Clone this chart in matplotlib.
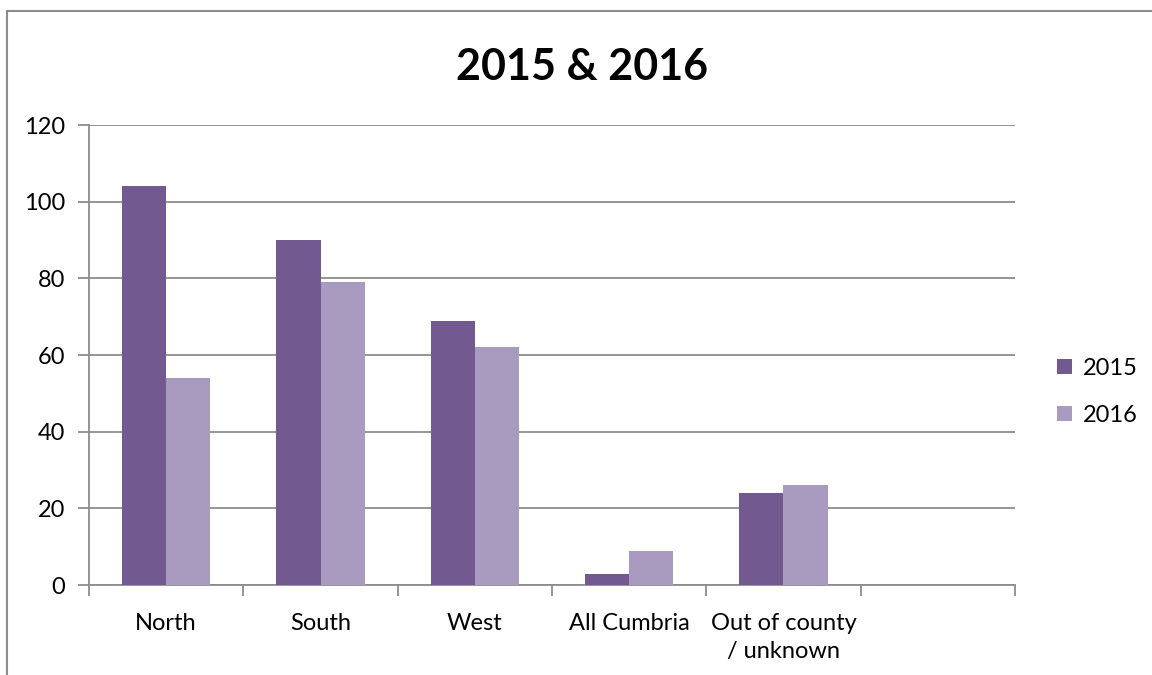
"""Grouped bar chart of counts by area for 2015 and 2016."""

import matplotlib.pyplot as plt
import numpy as np
from matplotlib.lines import Line2D

plt.rcParams['font.family'] = ['Lato', 'DejaVu Sans']

# Area categories (last slot is left empty on the axis)
areas = ['North', 'South', 'West', 'All Cumbria', 'Out of county\n/ unknown', '']
counts_2015 = [104, 90, 69, 3, 24]
counts_2016 = [54, 79, 62, 9, 26]
y_ticks = [0, 20, 40, 60, 80, 100, 120]

col_2015 = '#72598f'
col_2016 = '#a99bc0'
grid_col = '#8c8c8c'

fig = plt.figure(figsize=(11.52, 6.75), dpi=100)
ax = fig.add_axes([89 / 1152, 90 / 675, 926 / 1152, 460 / 675])

# Bar width for a 150% gap between groups
bw = 1 / 3.5
x = np.arange(len(counts_2015))
ax.bar(x - bw / 2, counts_2015, bw, color=col_2015, label='2015', zorder=3)
ax.bar(x + bw / 2, counts_2016, bw, color=col_2016, label='2016', zorder=3)

ax.set_xlim(-0.5, len(areas) - 0.5)
ax.set_ylim(0, 120)

# Horizontal grid lines
ax.set_yticks(y_ticks)
ax.yaxis.grid(True, color=grid_col, linewidth=1.3, zorder=0)
ax.set_axisbelow(True)

# Category labels in the middle, tick marks at the slot boundaries
ax.set_xticks(np.arange(len(areas)))
ax.set_xticklabels(areas, fontsize=17, linespacing=1.45)
ax.set_xticks(np.arange(len(areas) + 1) - 0.5, minor=True)
ax.tick_params(axis='x', which='major', length=0, pad=20)
ax.tick_params(axis='x', which='minor', length=8, width=1.3, color=grid_col)
ax.tick_params(axis='y', length=8, width=1.3, color=grid_col, labelsize=17, pad=9)

for side in ['top', 'right']:
    ax.spines[side].set_visible(False)
for side in ['left', 'bottom']:
    ax.spines[side].set_color(grid_col)
    ax.spines[side].set_linewidth(1.3)

fig.suptitle('2015 & 2016', x=582 / 1152, y=1 - 67 / 675, va='center',
             fontsize=31, fontweight='bold')

ax.legend(loc='center left', bbox_to_anchor=(1.022, 0.42), frameon=False,
          fontsize=17, handlelength=0.65, handleheight=0.65,
          handletextpad=0.45, labelspacing=1.1)

# Outer chart border (left and top edges)
fig.add_artist(Line2D([7 / 1152, 7 / 1152], [0, 1 - 11 / 675],
                      color='#8c8c8c', linewidth=1.5))
fig.add_artist(Line2D([7 / 1152, 1], [1 - 11 / 675, 1 - 11 / 675],
                      color='#8c8c8c', linewidth=1.5))

plt.savefig('out.png', dpi=100)
